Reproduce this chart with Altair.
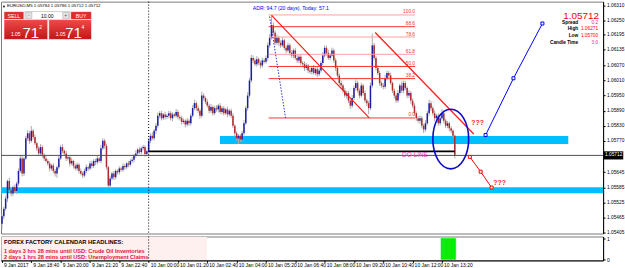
import altair as alt
import pandas as pd

FONT = "Liberation Sans"

# ---------------- data (prices in points above 1.05000) ----------------
BASE = 1.05
PT = 0.00001

OPEN0 = 440
CLOSE = [
    470, 500, 540, 610, 575, 560, 585, 570, 600, 650, 700, 640, 700, 780, 800, 770,
    810, 785, 760, 740, 720, 745, 715, 700, 690, 680, 660, 672, 650, 640, 665, 700,
    745, 730, 720, 700, 705, 680, 690, 670, 660, 675, 650, 640, 632, 650, 665, 660,
    680, 670, 690, 685, 700, 690, 740, 770, 750, 665, 592, 620, 640, 625, 650, 645,
    660, 655, 670, 665, 680, 675, 690, 695, 710, 720, 735, 725, 740, 745, 718, 728,
    770, 790, 780, 810, 830, 870, 880, 860, 875, 865, 870, 880, 860, 875, 870, 885,
    865, 860, 845, 850, 835, 850, 840, 870, 900, 920, 900, 890, 870, 950, 940, 925,
    910, 890, 905, 880, 900, 895, 910, 885, 900, 880, 895, 875, 890, 870, 830, 800,
    780, 790, 775, 800, 840, 900, 950, 1010, 1100, 1090, 1075, 1095, 1080, 1070, 1090, 1085,
    1100, 1150, 1180, 1230, 1200, 1160, 1180, 1160, 1150, 1170, 1140, 1130, 1150, 1120, 1110, 1130,
    1100, 1090, 1105, 1080, 1075, 1060, 1070, 1050, 1045, 1060, 1040, 1055, 1035, 1050, 1080, 1110,
    1140, 1120, 1100, 1110, 1130, 1090, 1060, 1030, 1000, 990, 970, 950, 960, 930, 910, 940,
    980, 1000, 970, 950, 990, 960, 930, 920, 900, 990, 1150, 1100, 1060, 1040, 1000, 990,
    985, 1020, 1040, 1030, 1000, 970, 950, 930, 960, 990, 970, 1000, 980, 950, 960, 930,
    910, 880, 860, 850, 860, 830, 815, 840, 880, 920, 900, 880, 860, 870, 840, 860,
    880, 850, 830, 840, 820, 810, 790, 712,
]
WICK_UP = [
    10, 8, 12, 6, 14, 9, 7, 11, 8, 10, 12, 9, 6, 10, 13, 8,
    19, 7, 10, 6, 9, 12, 8, 5, 11, 7, 9, 6, 10, 8, 7, 12,
    9, 11, 6, 10, 8, 7, 12, 5, 9, 8, 6, 10, 7, 9, 11, 6,
    8, 10, 7, 9, 12, 6, 14, 10, 8, 9, 6, 11, 7, 10, 8, 6,
    9, 7, 11, 8, 6, 10, 7, 9, 8, 12, 6, 10, 7, 9, 8, 6,
    11, 9, 14, 7, 10, 12, 8, 9, 6, 11, 7, 10, 8, 9, 6, 12,
    8, 7, 10, 9, 6, 11, 8, 9, 12, 14, 7, 10, 8, 16, 9, 7,
    10, 8, 11, 6, 9, 12, 7, 10, 8, 9, 6, 11, 7, 8, 10, 6,
    9, 7, 8, 10, 12, 9, 14, 11, 13, 10, 8, 12, 7, 9, 11, 8,
    10, 12, 14, 41, 11, 9, 13, 8, 10, 12, 7, 9, 11, 8, 10, 7,
    9, 12, 8, 10, 7, 11, 9, 6, 10, 8, 12, 7, 9, 11, 8, 14,
    10, 9, 12, 8, 11, 7, 10, 9, 8, 11, 7, 10, 9, 8, 6, 12,
    10, 14, 9, 8, 11, 7, 10, 8, 9, 12, 47, 10, 8, 11, 9, 7,
    10, 12, 9, 8, 11, 7, 9, 10, 12, 8, 16, 10, 9, 7, 11, 8,
    9, 10, 7, 8, 11, 9, 8, 12, 10, 14, 9, 8, 11, 7, 10, 9,
    16, 10, 8, 9, 7, 8, 6, 5,
]
WICK_DN = [
    20, 12, 9, 14, 8, 11, 10, 7, 12, 9, 8, 11, 10, 7, 9, 12,
    8, 10, 7, 11, 9, 8, 12, 10, 7, 9, 11, 8, 10, 12, 17, 9,
    7, 10, 8, 11, 9, 12, 7, 10, 8, 9, 11, 7, 10, 8, 9, 11,
    7, 10, 8, 12, 9, 7, 10, 8, 11, 9, 9, 10, 7, 11, 8, 9,
    10, 7, 9, 12, 8, 10, 7, 9, 11, 8, 10, 7, 9, 8, 11, 9,
    8, 10, 7, 9, 12, 8, 10, 9, 7, 11, 8, 10, 9, 12, 7, 8,
    10, 9, 11, 7, 12, 8, 10, 9, 7, 8, 11, 9, 12, 8, 10, 9,
    8, 11, 9, 10, 7, 9, 12, 8, 10, 9, 7, 11, 8, 10, 9, 12,
    10, 23, 11, 8, 9, 7, 10, 8, 9, 11, 7, 10, 8, 12, 9, 7,
    8, 10, 9, 7, 11, 9, 8, 12, 10, 7, 9, 11, 8, 10, 9, 12,
    8, 10, 11, 9, 7, 12, 8, 10, 9, 11, 7, 10, 12, 8, 9, 10,
    9, 11, 8, 10, 7, 9, 12, 8, 10, 11, 9, 8, 12, 10, 14, 9,
    8, 10, 9, 11, 7, 10, 9, 12, 24, 8, 9, 10, 11, 8, 12, 9,
    10, 8, 9, 11, 7, 10, 12, 9, 8, 10, 9, 11, 8, 10, 9, 12,
    10, 9, 11, 8, 12, 10, 14, 9, 8, 10, 11, 9, 12, 8, 10, 9,
    8, 11, 9, 10, 12, 9, 8, 12,
]

TIME_LABELS = ["9 Jan 2017", "9 Jan 18:40", "9 Jan 20:00", "9 Jan 21:20", "9 Jan 22:40",
               "10 Jan 00:00", "10 Jan 01:20", "10 Jan 02:40", "10 Jan 04:00", "10 Jan 05:20",
               "10 Jan 06:40", "10 Jan 08:00", "10 Jan 09:20", "10 Jan 10:40", "10 Jan 12:00",
               "10 Jan 13:20"]
TIME_TICK_BARS = [0, 16, 32, 48, 64, 80, 96, 112, 128, 144, 160, 176, 192, 208, 224, 240]
PRICE_TICKS = [1.06310, 1.06250, 1.06195, 1.06135, 1.06070, 1.06010, 1.05950, 1.05890,
               1.05830, 1.05770, 1.05645, 1.05585, 1.05525, 1.05465, 1.05405]

BID = 1.05712
DAY_OPEN = 1.05728
DAY_START_BAR = 80
FIB_HIGH = 1.06271
FIB_LOW = 1.05861
FIB_LEVELS = [100.0, 88.6, 78.6, 61.8, 50.0, 38.2, 0.0]
FIB_TONE = ["light", "strong", "light", "light", "strong", "strong", "strong"]
ZONE_UP_LO, ZONE_UP_HI = 1.05757, 1.05789
ZONE_DN_LO, ZONE_DN_HI = 1.05561, 1.05585
NEWS_BARS = [240, 241, 242, 243, 244, 245, 246, 247]
NEWS_VAL = [1, 1, 1, 1, 1, 1, 1, 1]

# ---------------- layout constants ----------------
X_MIN, X_MAX = -0.54, 327.9
Y_MIN, Y_MAX = 1.05401, 1.06324
W, H_MAIN, H_IND = 605, 233, 24

X_SCALE = alt.Scale(domain=[X_MIN, X_MAX], nice=False, zero=False)
Y_SCALE = alt.Scale(domain=[Y_MIN, Y_MAX], nice=False, zero=False)
IND_SCALE = alt.Scale(domain=[-0.05, 1.1], nice=False, zero=False)

PRICE_AXIS = alt.Axis(orient="right", values=PRICE_TICKS, format=".5f", labelFontSize=4.8,
                      labelFont=FONT, labelColor="black", tickColor="black", tickSize=2,
                      labelPadding=1.5, domainColor="black", grid=False, labelOverlap=False,
                      labelBound=False, labelFlush=False)


def X(field):
    return alt.X(field, type="quantitative", scale=X_SCALE, axis=None, title=None)


def Y(field):
    return alt.Y(field, type="quantitative", scale=Y_SCALE, axis=PRICE_AXIS, title=None)


# ---------------- candles ----------------
opens = [OPEN0] + CLOSE[:-1]
rows = []
for i, (o, c, u, d) in enumerate(zip(opens, CLOSE, WICK_UP, WICK_DN)):
    rows.append({
        "i": i,
        "o": BASE + o * PT,
        "c": BASE + c * PT,
        "h": BASE + (max(o, c) + u) * PT,
        "l": BASE + (min(o, c) - d) * PT,
        "dir": "up" if c >= o else "down",
    })
candles = pd.DataFrame(rows)

wicks = alt.Chart(candles).mark_rule(color="#ababab", strokeWidth=1).encode(
    x=X("i"), y=Y("l"), y2="h")
bodies_up = alt.Chart(candles[candles["dir"] == "up"]).mark_rule(strokeWidth=1.5, color="#1c1ca8").encode(
    x=X("i"), y=Y("o"), y2="c")
bodies_dn = alt.Chart(candles[candles["dir"] == "down"]).mark_rule(strokeWidth=1.5, color="#b02828").encode(
    x=X("i"), y=Y("o"), y2="c")

# ---------------- zones & lines ----------------
zones = pd.DataFrame({
    "x0": [118.9, X_MIN], "x1": [308.9, X_MAX],
    "lo": [ZONE_UP_LO, ZONE_DN_LO], "hi": [ZONE_UP_HI, ZONE_DN_HI]})
zone_marks = alt.Chart(zones).mark_rect(color="#00bfff").encode(
    x=X("x0"), x2="x1", y=Y("lo"), y2="hi")

bid_df = pd.DataFrame({"p": [BID], "x0": [X_MIN], "x1": [X_MAX]})
bid_line = alt.Chart(bid_df).mark_rule(color="#505050", strokeWidth=1).encode(
    x=X("x0"), x2="x1", y=Y("p"))

do_df = pd.DataFrame({"p": [DAY_OPEN], "x0": [DAY_START_BAR], "x1": [len(CLOSE) - 1]})
do_line = alt.Chart(do_df).mark_rule(color="black", strokeWidth=2).encode(
    x=X("x0"), x2="x1", y=Y("p"))

sep_df = pd.DataFrame({"x": [DAY_START_BAR]})
sep_main = alt.Chart(sep_df).mark_rule(color="black", strokeDash=[1, 2], strokeWidth=1).encode(
    x=X("x"))

# fibonacci
fib = pd.DataFrame({"lvl": FIB_LEVELS, "tone": FIB_TONE})
fib["p"] = FIB_LOW + fib["lvl"] / 100.0 * (FIB_HIGH - FIB_LOW)
fib["label"] = fib["lvl"].map(lambda v: f"{v:.1f}")
fib["x0"] = 145.5
fib["x1"] = 225.3
fib_strong = alt.Chart(fib[fib["tone"] == "strong"]).mark_rule(strokeWidth=1, color="#ff3030").encode(
    x=X("x0"), x2="x1", y=Y("p"))
fib_light = alt.Chart(fib[fib["tone"] == "light"]).mark_rule(strokeWidth=1, color="#ff9e9e").encode(
    x=X("x0"), x2="x1", y=Y("p"))
fib_text = alt.Chart(fib).mark_text(align="right", baseline="bottom", dy=-0.5, fontSize=4.8,
                                    font=FONT, color="#ff3030").encode(
    x=X("x1"), y=Y("p"), text="label:N")

trend = pd.DataFrame({
    "seg": ["a", "a", "b", "b"],
    "x": [147.1, 200.3, 203.6, 257.3],
    "p": [1.06269, 1.05861, 1.06201, 1.05797]})
trend_lines = alt.Chart(trend).mark_line(color="#ff1a1a", strokeWidth=1.2).encode(
    x=X("x"), y=Y("p"), detail="seg:N")

dotted = pd.DataFrame({"x": [146.0, 154.7], "p": [1.06265, 1.05861]})
dotted_line = alt.Chart(dotted).mark_line(color="#3030d0", strokeDash=[1.5, 1.5], strokeWidth=1).encode(
    x=X("x"), y=Y("p"))

# ellipse around the last candles
ell = pd.DataFrame({"x": [244.8], "p": [1.05777]})
ELLIPSE = ("M0,-1 C0.331,-1 0.6,-0.552 0.6,0 C0.6,0.552 0.331,1 0,1 "
           "C-0.331,1 -0.6,0.552 -0.6,0 C-0.6,-0.552 -0.331,-1 0,-1 Z")
ellipse = alt.Chart(ell).mark_point(shape=ELLIPSE, size=3600, filled=False, color="#0a0acc",
                                    strokeWidth=1.6, opacity=1).encode(x=X("x"), y=Y("p"))

# projections
blue_proj = pd.DataFrame({"x": [263.8, 279.0, 294.8], "p": [1.05793, 1.06019, 1.06237]})
red_proj = pd.DataFrame({"x": [255.2, 261.1, 267.1], "p": [1.05706, 1.05647, 1.05584]})
blue_line = alt.Chart(blue_proj).mark_line(color="#0000ff", strokeWidth=1).encode(x=X("x"), y=Y("p"))
blue_pts = alt.Chart(blue_proj).mark_point(shape="square", size=9, filled=True, fill="white",
                                           stroke="#0000ff", strokeWidth=1, opacity=1).encode(
    x=X("x"), y=Y("p"))
red_line = alt.Chart(red_proj).mark_line(color="#ff0000", strokeWidth=1).encode(x=X("x"), y=Y("p"))
red_pts = alt.Chart(red_proj).mark_point(shape="square", size=9, filled=True, fill="white",
                                         stroke="#ff0000", strokeWidth=1, opacity=1).encode(
    x=X("x"), y=Y("p"))

notes = pd.DataFrame({"x": [259.5, 271.4], "p": [1.05841, 1.05603], "t": ["???", "???"]})
note_text = alt.Chart(notes).mark_text(fontSize=7, font=FONT, fontWeight="bold", color="#ff2020").encode(
    x=X("x"), y=Y("p"), text="t:N")

do_lbl = pd.DataFrame({"x": [225.3], "p": [1.05712], "t": ["DO LINE"]})
do_text = alt.Chart(do_lbl).mark_text(fontSize=6.5, font=FONT, color="#e040c0").encode(
    x=X("x"), y=Y("p"), text="t:N")

# current price tag on the axis
tag = pd.DataFrame({"p": [BID], "t": [f"{BID:.5f}"]})
TAG = "M-1,-0.42 L1,-0.42 L1,0.42 L-1,0.42 Z"
tag_box = alt.Chart(tag).mark_point(shape=TAG, size=380, filled=True, color="black", opacity=1).encode(
    x=alt.value(615.5), y=Y("p"))
tag_text = alt.Chart(tag).mark_text(align="left", fontSize=4.8, font=FONT, color="white").encode(
    x=alt.value(607), y=Y("p"), text="t:N")


# ---------------- screen-anchored panels ----------------
def ptext(txt, x, y, size, color="black", align="left", weight="normal", baseline="middle"):
    return alt.Chart(pd.DataFrame({"t": [txt]})).mark_text(
        align=align, baseline=baseline, fontSize=size, color=color, fontWeight=weight, font=FONT
    ).encode(x=alt.value(x), y=alt.value(y), text="t:N")


def prect(x, x2, y, y2, fill, stroke=None):
    kw = {"fill": fill}
    if stroke:
        kw["stroke"] = stroke
        kw["strokeWidth"] = 0.6
    return alt.Chart(pd.DataFrame({"a": [0]})).mark_rect(**kw).encode(
        x=alt.value(x), x2=alt.value(x2), y=alt.value(y), y2=alt.value(y2))


RED_GRAD = alt.LinearGradient(gradient="linear", x1=0, x2=0, y1=0, y2=1,
                              stops=[alt.GradientStop(color="#ee4a4a", offset=0),
                                     alt.GradientStop(color="#c21616", offset=1)])

panel = [
    alt.Chart(pd.DataFrame({"a": [0]})).mark_point(shape="triangle-up", filled=True, size=6,
                                                   color="black", opacity=1).encode(
        x=alt.value(3), y=alt.value(4.5)),
    ptext("EURUSD,M5  1.05784 1.05786 1.05712 1.05712", 6, 4.5, 4.4),
    prect(3, 23, 10, 18, "#e02c2c", "white"),
    ptext("SELL", 13, 14.2, 5.2, "white", "center"),
    prect(24, 69, 10, 18, "white", "#b0b0b0"),
    prect(25, 31, 11, 17, "#e4e4e4", "#b0b0b0"),
    prect(62, 68, 11, 17, "#e4e4e4", "#b0b0b0"),
    ptext("-", 28, 13.8, 5, "#555", "center"),
    ptext("+", 65, 13.8, 5, "#555", "center"),
    ptext("10.00", 46.5, 14.2, 5, "black", "center"),
    prect(70, 91, 10, 18, "#e02c2c", "white"),
    ptext("BUY", 80.5, 14.2, 5.2, "white", "center"),
    prect(3, 47, 18, 38, RED_GRAD, "white"),
    prect(48, 91, 18, 38, RED_GRAD, "white"),
    ptext("1.05", 10, 35, 5, "white", baseline="alphabetic"),
    ptext("71", 21.5, 36.5, 15, "white", baseline="alphabetic"),
    ptext("2", 38.5, 25, 5, "white"),
    ptext("1.05", 55, 35, 5, "white", baseline="alphabetic"),
    ptext("71", 64.5, 36.5, 15, "white", baseline="alphabetic"),
    ptext("4", 81, 25, 5, "white"),
    ptext("ADR: 94.7 (20 days), Today: 57.1", 253, 6, 5.2, "#0000ff"),
    ptext("1.05712", 601, 17, 10, "#ff0000", "right", baseline="alphabetic"),
    ptext("Spread", 580, 21, 4.8, "black", "right", "bold"),
    ptext("0.2", 600, 21, 4.8, "#ff1493", "right"),
    ptext("High", 580, 28, 4.8, "black", "right", "bold"),
    ptext("1.06271", 600, 28, 4.8, "#ff0000", "right"),
    ptext("Low", 580, 35, 4.8, "black", "right", "bold"),
    ptext("1.05700", 600, 35, 4.8, "#ff0000", "right"),
    ptext("Candle Time", 580, 42, 4.8, "black", "right", "bold"),
    ptext("3:0", 600, 42, 4.8, "#ff1493", "right"),
]

main = alt.layer(
    zone_marks, wicks, bodies_up, bodies_dn, bid_line, do_line, sep_main, fib_light, fib_strong,
    fib_text, trend_lines, dotted_line, ellipse, blue_line, blue_pts, red_line, red_pts,
    note_text, do_text, tag_box, tag_text, *panel
).properties(width=W, height=H_MAIN)

# ---------------- indicator window ----------------
TIME_EXPR = "[" + ",".join(f"'{s}'" for s in TIME_LABELS) + "][round(datum.value/16)]"
TIME_AXIS = alt.Axis(orient="bottom", values=TIME_TICK_BARS, labelExpr=TIME_EXPR, labelAlign="left",
                     labelFontSize=5, labelFont=FONT, labelColor="black", tickColor="black",
                     tickSize=2, labelPadding=0.5, labelOffset=1.5, domainColor="black", grid=False,
                     labelFlush=False, labelOverlap=False, labelBound=False)
IND_AXIS = alt.Axis(orient="right", values=[0, 1], format="d", labelFontSize=5, labelFont=FONT,
                    labelColor="black", tickColor="black", tickSize=2, labelPadding=1.5,
                    domainColor="black", grid=False, labelAlign="left")

news = pd.DataFrame({"i": NEWS_BARS, "v": NEWS_VAL})
news["x0"] = news["i"] - 0.5
news["x1"] = news["i"] + 0.5
news["b"] = 0
news_bars = alt.Chart(news).mark_rect(color="#00ee00", stroke="#00ee00", strokeWidth=0.6).encode(
    x=alt.X("x0:Q", scale=X_SCALE, axis=TIME_AXIS, title=None), x2="x1",
    y=alt.Y("v:Q", scale=IND_SCALE, axis=IND_AXIS, title=None), y2="b")
sep_ind = alt.Chart(sep_df).mark_rule(color="black", strokeDash=[1, 2], strokeWidth=1).encode(
    x=alt.X("x:Q", scale=X_SCALE, axis=TIME_AXIS, title=None))

cal = [
    prect(0.5, 207, 0.5, 23.5, "#fff0f0"),
    ptext("FOREX FACTORY CALENDAR  HEADLINES:", 3, 6, 5.8, "black", weight="bold"),
    ptext("1 days 3 hrs 28 mins until USD: Crude Oil Inventories", 3, 14.5, 5.6, "#e0103c", weight="bold"),
    ptext("2 days 1 hrs 28 mins until USD: Unemployment Claims", 3, 21, 5.6, "#e0103c", weight="bold"),
]

ind = alt.layer(*cal, news_bars, sep_ind).properties(width=W, height=H_IND)

chart = alt.vconcat(main, ind, spacing=0).properties(
    padding=0, background="white"
).configure_view(stroke="#7a7a7a", strokeWidth=1).configure_text(font=FONT)

chart.save("out.html", embed_options={"renderer": "svg", "actions": False})
